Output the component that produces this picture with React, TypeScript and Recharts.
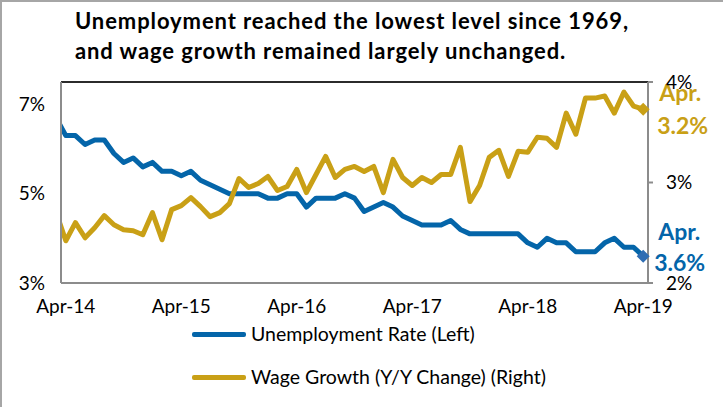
import React from 'react';
import {
  LineChart,
  Line,
  XAxis,
  YAxis,
  ReferenceLine,
  ReferenceDot,
} from 'recharts';

// Mar-14 .. Apr-19, month index -1 .. 60 (Apr-14 = 0)
const unemployment = [
  6.7,
  6.3, 6.3, 6.1, 6.2, 6.2, 5.9, 5.7, 5.8, 5.6, 5.7, 5.5, 5.5,
  5.4, 5.5, 5.3, 5.2, 5.1, 5.0, 5.0, 5.0, 5.0, 4.9, 4.9, 5.0,
  5.0, 4.7, 4.9, 4.9, 4.9, 5.0, 4.9, 4.6, 4.7, 4.8, 4.7, 4.5,
  4.4, 4.3, 4.3, 4.3, 4.4, 4.2, 4.1, 4.1, 4.1, 4.1, 4.1, 4.1,
  3.9, 3.8, 4.0, 3.9, 3.9, 3.7, 3.7, 3.7, 3.9, 4.0, 3.8, 3.8,
  3.6,
];

const wageGrowth = [
  2.7,
  2.42, 2.6, 2.45, 2.55, 2.67, 2.58, 2.53, 2.52, 2.48, 2.7, 2.43, 2.73,
  2.77, 2.85, 2.76, 2.66, 2.7, 2.79, 3.04, 2.95, 2.99, 3.06, 2.92, 2.96,
  3.13, 2.9, 3.08, 3.26, 3.05, 3.13, 3.16, 3.11, 3.16, 2.9, 3.23, 3.05,
  2.97, 3.05, 3.0, 3.08, 3.08, 3.35, 2.81, 2.97, 3.25, 3.32, 3.06, 3.31,
  3.3, 3.45, 3.44, 3.35, 3.69, 3.48, 3.84, 3.84, 3.86, 3.69, 3.9, 3.76,
  3.73,
];

const xTicks = [0, 12, 24, 36, 48, 60];
const xTickLabels = ['Apr-14', 'Apr-15', 'Apr-16', 'Apr-17', 'Apr-18', 'Apr-19'];
const leftTicks = [3, 5, 7];
const rightTicks = [2, 3, 4];

// end-of-line callouts as printed on the chart
const wageCallout = ['Apr.', '3.2%'];
const unempCallout = ['Apr.', '3.6%'];

const BLUE = '#0465a9';
const BLUE_MARK = '#2f6db3';
const GOLD = '#c9a016';
const FONT = 'Lato, "Noto Sans", sans-serif';

const data = unemployment.map((u, i) => ({ m: i - 1, unemp: u, wage: wageGrowth[i] }));
const last = data[data.length - 1];

const diamond = (cx: number, cy: number, fill: string) => {
  const r = 6.5;
  return <path d={`M${cx},${cy - r}L${cx + r},${cy}L${cx},${cy + r}L${cx - r},${cy}Z`} fill={fill} />;
};

// eslint-disable-next-line @typescript-eslint/no-explicit-any
const WageEnd = (props: any) => {
  const { cx, cy } = props;
  return (
    <g>
      {diamond(cx, cy, GOLD)}
      <text x={cx + 16} y={cy - 8} fill={GOLD} fontSize={23} fontWeight="bold" fontFamily={FONT}>{wageCallout[0]}</text>
      <text x={cx + 14} y={cy + 25} fill={GOLD} fontSize={23} fontWeight="bold" fontFamily={FONT}>{wageCallout[1]}</text>
    </g>
  );
};

// eslint-disable-next-line @typescript-eslint/no-explicit-any
const UnempEnd = (props: any) => {
  const { cx, cy } = props;
  return (
    <g>
      {diamond(cx, cy, BLUE_MARK)}
      <text x={cx + 15} y={cy - 16} fill={BLUE} fontSize={23} fontWeight="bold" fontFamily={FONT}>{unempCallout[0]}</text>
      <text x={cx + 11} y={cy + 15} fill={BLUE} fontSize={23} fontWeight="bold" fontFamily={FONT}>{unempCallout[1]}</text>
    </g>
  );
};

export default function App() {
  return (
    <div
      style={{
        position: 'absolute',
        left: 0,
        top: 0,
        width: 723,
        height: 407,
        background: '#fff',
        fontFamily: FONT,
        boxSizing: 'border-box',
        borderTop: '2px solid #a6a6a6',
        borderLeft: '2px solid #a6a6a6',
        overflow: 'hidden',
      }}
    >
      <div
        style={{
          position: 'absolute',
          left: 73,
          top: 4,
          fontSize: 22,
          fontWeight: 'bold',
          letterSpacing: 0.9,
          lineHeight: '30px',
          color: '#000',
          whiteSpace: 'nowrap',
        }}
      >
        <div>Unemployment reached the lowest level since 1969,</div>
        <div>and wage growth remained largely unchanged.</div>
      </div>

      <div style={{ position: 'absolute', left: -2, top: -2 }}>
        <LineChart width={723} height={407} data={data} margin={{ top: 82, right: 0, bottom: 94, left: 0 }}>
          <XAxis
            dataKey="m"
            type="number"
            domain={[-0.5, 60.5]}
            allowDataOverflow
            ticks={xTicks}
            tickFormatter={(v: number) => xTickLabels[xTicks.indexOf(v)] ?? ''}
            axisLine={{ stroke: '#8c8c8c', strokeWidth: 2 }}
            tickLine={false}
            tickSize={0}
            tickMargin={17}
            height={30}
            tick={{ fill: '#000', fontSize: 19, fontFamily: FONT }}
          />
          <YAxis
            yAxisId="left"
            domain={[3, 7.5]}
            ticks={leftTicks}
            allowDataOverflow
            width={61}
            axisLine={{ stroke: '#8c8c8c', strokeWidth: 2 }}
            tickLine={false}
            tickSize={0}
            tickMargin={16}
            tickFormatter={(v: number) => `${v}%`}
            tick={{ fill: '#000', fontSize: 19, fontFamily: FONT }}
          />
          <YAxis
            yAxisId="right"
            orientation="right"
            domain={[2, 4]}
            ticks={rightTicks}
            width={75}
            axisLine={{ stroke: '#8c8c8c', strokeWidth: 2 }}
            tickLine={{ stroke: '#8c8c8c', strokeWidth: 2 }}
            tickSize={5}
            tickMargin={13}
            tickFormatter={(v: number) => `${v}%`}
            tick={{ fill: '#000', fontSize: 19, fontFamily: FONT }}
          />
          <ReferenceLine yAxisId="left" y={7.5} stroke="#2b2b2b" strokeWidth={2} ifOverflow="visible" />
          <Line
            yAxisId="left"
            type="linear"
            dataKey="unemp"
            stroke={BLUE}
            strokeWidth={5}
            strokeLinejoin="round"
            dot={false}
            activeDot={false}
            isAnimationActive={false}
          />
          <Line
            yAxisId="right"
            type="linear"
            dataKey="wage"
            stroke={GOLD}
            strokeWidth={5}
            strokeLinejoin="round"
            dot={false}
            activeDot={false}
            isAnimationActive={false}
          />
          <ReferenceDot yAxisId="right" x={last.m} y={last.wage} ifOverflow="visible" shape={WageEnd} />
          <ReferenceDot yAxisId="left" x={last.m} y={last.unemp} ifOverflow="visible" shape={UnempEnd} />
        </LineChart>
      </div>

      <div style={{ position: 'absolute', left: 190, top: 318, fontSize: 19.5, color: '#000', lineHeight: '28px' }}>
        <div style={{ display: 'flex', alignItems: 'center' }}>
          <span style={{ display: 'inline-block', width: 54, height: 5, background: BLUE, borderRadius: 2, marginRight: 5 }} />
          <span>Unemployment Rate (Left)</span>
        </div>
        <div style={{ display: 'flex', alignItems: 'center', marginTop: 15 }}>
          <span style={{ display: 'inline-block', width: 54, height: 5, background: GOLD, borderRadius: 2, marginRight: 5 }} />
          <span>Wage Growth (Y/Y Change) (Right)</span>
        </div>
      </div>
    </div>
  );
}
